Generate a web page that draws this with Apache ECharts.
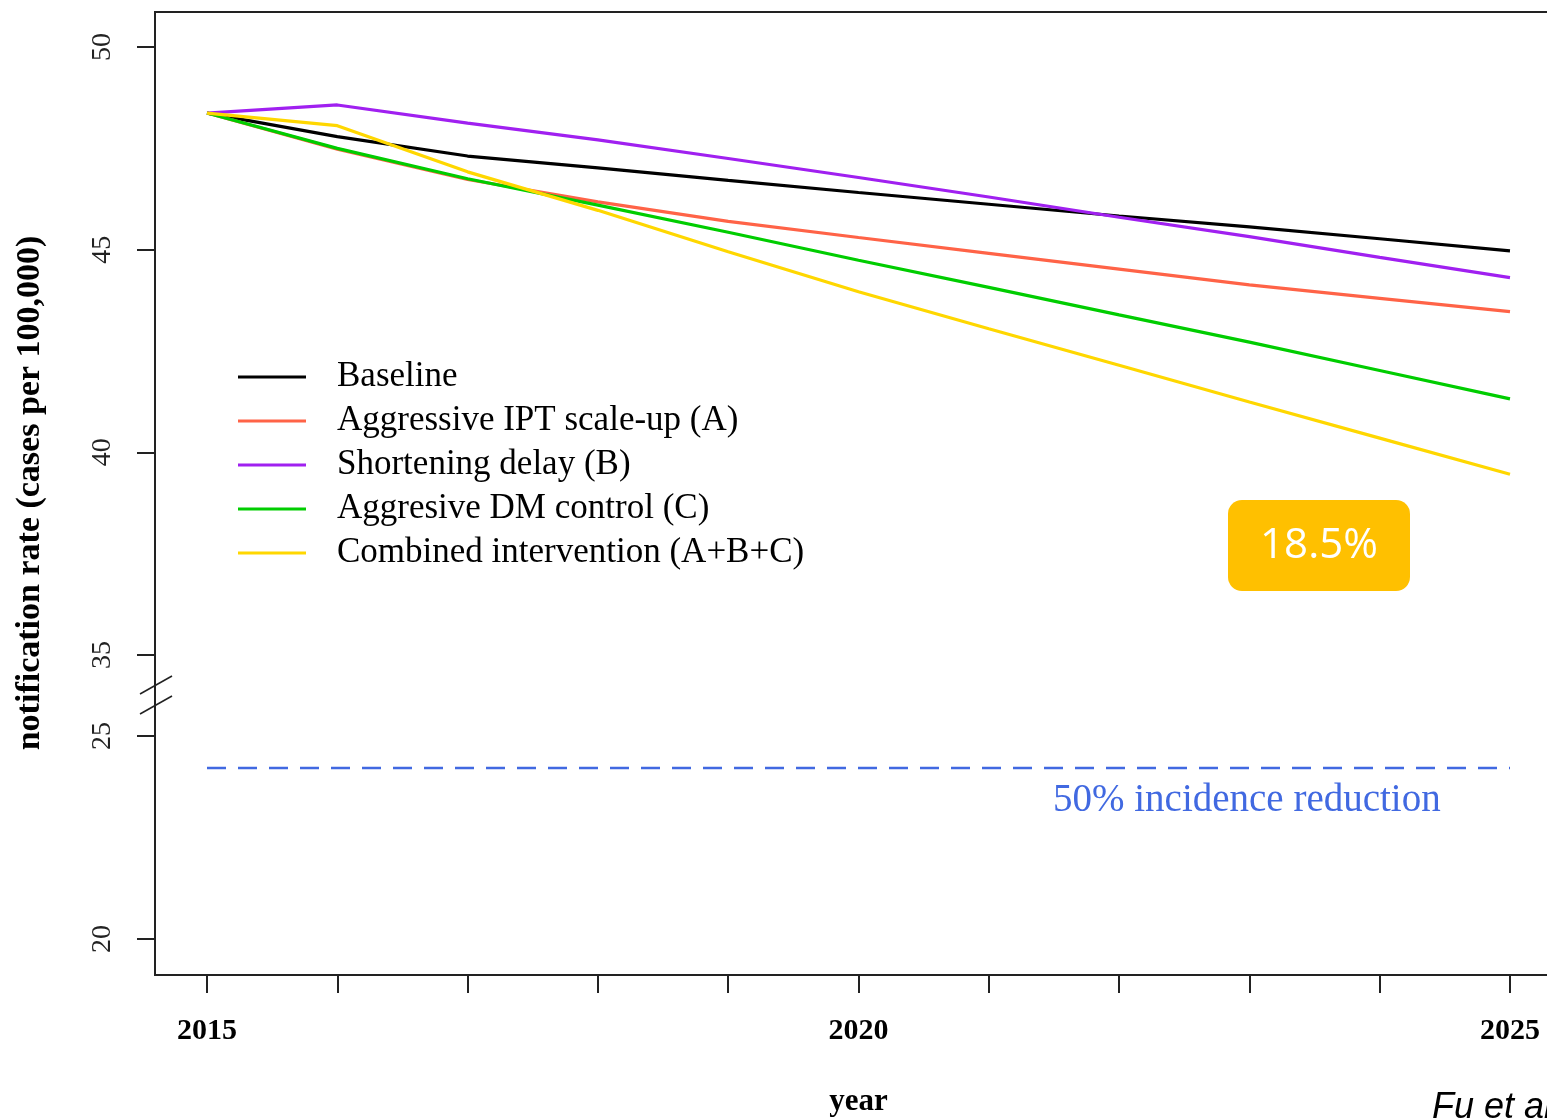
<!DOCTYPE html>
<html>
<head>
<meta charset="utf-8">
<script src="https://cdn.jsdelivr.net/npm/echarts@6/dist/echarts.min.js"></script>
<style>
  html, body { margin: 0; padding: 0; background: #ffffff; }
  #chart { width: 1547px; height: 1120px; }
</style>
</head>
<body>
<div id="chart"></div>
<script>
// ---- data ----
const years = [2015, 2016, 2017, 2018, 2019, 2020, 2021, 2022, 2023, 2024, 2025];
const baseline = [48.37, 47.79, 47.31, 47.02, 46.71, 46.41, 46.12, 45.83, 45.56, 45.27, 44.97];
const iptScaleUp = [48.37, 47.48, 46.73, 46.18, 45.70, 45.30, 44.91, 44.52, 44.13, 43.80, 43.47];
const shortDelay = [48.37, 48.57, 48.12, 47.71, 47.25, 46.78, 46.30, 45.80, 45.32, 44.81, 44.31];
const dmControl = [48.37, 47.50, 46.75, 46.10, 45.43, 44.74, 44.07, 43.39, 42.72, 42.02, 41.32];
const combined = [48.37, 48.06, 46.92, 45.97, 44.95, 43.96, 43.05, 42.15, 41.24, 40.35, 39.46];
const targetYears = [2015, 2025];
const targetValues = [24.21, 24.21];
const seriesNames = ['Baseline', 'Aggressive IPT scale-up (A)', 'Shortening delay (B)', 'Aggresive DM control (C)', 'Combined intervention (A+B+C)'];
const upperTicks = [35, 40, 45, 50];
const lowerTicks = [20, 25];
const xLabelYears = [2015, 2020, 2025];

const colors = ['#000000', '#FF6347', '#A020F0', '#00CD00', '#FFD700'];
const seriesValues = [baseline, iptScaleUp, shortDelay, dmControl, combined];
const serif = '"Liberation Serif", "Times New Roman", serif';

const chart = echarts.init(document.getElementById('chart'), null, { renderer: 'canvas' });

const lineSeries = seriesNames.map((name, k) => ({
  name: name,
  type: 'line',
  xAxisIndex: 0,
  yAxisIndex: 0,
  symbol: 'none',
  showSymbol: false,
  smooth: false,
  lineStyle: { color: colors[k], width: 3.2 },
  itemStyle: { color: colors[k] },
  data: years.map((y, i) => [y, seriesValues[k][i]]),
  z: 3
}));

const option = {
  animation: false,
  backgroundColor: '#ffffff',
  grid: [
    { left: 207, right: 37, top: 47, height: 608, show: false },
    { left: 207, right: 37, top: 736, height: 203, show: false }
  ],
  xAxis: [
    { type: 'value', gridIndex: 0, min: 2015, max: 2025, interval: 1, show: false },
    {
      type: 'value', gridIndex: 1, min: 2015, max: 2025, interval: 1,
      position: 'bottom', offset: 36,
      axisLine: { show: false },
      axisTick: { show: true, length: 18, lineStyle: { color: '#222', width: 2 } },
      splitLine: { show: false },
      axisLabel: {
        margin: 41,
        fontFamily: serif, fontSize: 30, fontWeight: 'bold', color: '#000',
        formatter: v => (xLabelYears.indexOf(v) >= 0 ? String(v) : '')
      },
      name: 'year', nameLocation: 'middle', nameGap: 111,
      nameTextStyle: { fontFamily: serif, fontSize: 31, fontWeight: 'bold', color: '#000' }
    }
  ],
  yAxis: [
    {
      type: 'value', gridIndex: 0, min: 35, max: 50, interval: 5, offset: 52,
      axisLine: { show: false },
      axisTick: { show: true, length: 18, lineStyle: { color: '#222', width: 2 } },
      splitLine: { show: false },
      axisLabel: {
        rotate: 90, margin: 38, fontFamily: serif, fontSize: 28, color: '#222',
        formatter: v => (upperTicks.indexOf(v) >= 0 ? String(v) : '')
      }
    },
    {
      type: 'value', gridIndex: 1, min: 20, max: 25, interval: 5, offset: 52,
      axisLine: { show: false },
      axisTick: { show: true, length: 18, lineStyle: { color: '#222', width: 2 } },
      splitLine: { show: false },
      axisLabel: {
        rotate: 90, margin: 38, fontFamily: serif, fontSize: 28, color: '#222',
        formatter: v => (lowerTicks.indexOf(v) >= 0 ? String(v) : '')
      }
    }
  ],
  legend: {
    data: seriesNames,
    orient: 'vertical',
    left: 233,
    top: 350,
    icon: 'rect',
    itemWidth: 68,
    itemHeight: 3,
    itemGap: 0,
    selectedMode: false,
    textStyle: {
      fontFamily: serif, fontSize: 35, color: '#000',
      lineHeight: 44, padding: [0, 0, 0, 26]
    }
  },
  series: lineSeries.concat([{
    name: '50% incidence reduction',
    type: 'line',
    xAxisIndex: 1,
    yAxisIndex: 1,
    symbol: 'none',
    showSymbol: false,
    lineStyle: { color: '#4169E1', width: 2.5, type: [19, 12] },
    data: targetYears.map((y, i) => [y, targetValues[i]]),
    z: 3
  }]),
  graphic: [
    {
      type: 'rect', z: 10, silent: true,
      shape: { x: 155, y: 12, width: 1430, height: 963 },
      style: { fill: 'none', stroke: '#222', lineWidth: 2 }
    },
    {
      type: 'line', z: 11, silent: true,
      shape: { x1: 140, y1: 694, x2: 172, y2: 676 },
      style: { stroke: '#222', lineWidth: 1.5 }
    },
    {
      type: 'line', z: 11, silent: true,
      shape: { x1: 140, y1: 714, x2: 172, y2: 696 },
      style: { stroke: '#222', lineWidth: 1.5 }
    },
    {
      type: 'text', z: 11, silent: true,
      x: 30, y: 493, rotation: Math.PI / 2,
      style: {
        text: 'notification rate (cases per 100,000)',
        fontFamily: serif, fontSize: 34, fontWeight: 'bold', fill: '#000',
        align: 'center', verticalAlign: 'middle'
      }
    },
    {
      type: 'text', z: 11, silent: true,
      x: 1053, y: 801,
      style: {
        text: '50% incidence reduction',
        fontFamily: serif, fontSize: 39, fill: '#4169E1',
        align: 'left', verticalAlign: 'middle'
      }
    },
    {
      type: 'group', z: 12, silent: true,
      children: [
        {
          type: 'rect',
          shape: { x: 1228, y: 500, width: 182, height: 91, r: 14 },
          style: { fill: '#FFC000' }
        },
        {
          type: 'text',
          x: 1319, y: 546,
          style: {
            text: '18.5%', fontFamily: '"Open Sans", "Noto Sans", sans-serif',
            fontSize: 42, fill: '#ffffff', align: 'center', verticalAlign: 'middle'
          }
        }
      ]
    },
    {
      type: 'text', z: 11, silent: true,
      x: 1432, y: 1090,
      style: {
        text: 'Fu et al.', fontFamily: '"Liberation Sans", Arial, sans-serif',
        fontStyle: 'italic', fontSize: 36, fill: '#000',
        align: 'left', verticalAlign: 'top'
      }
    }
  ]
};

chart.setOption(option);
</script>
</body>
</html>
